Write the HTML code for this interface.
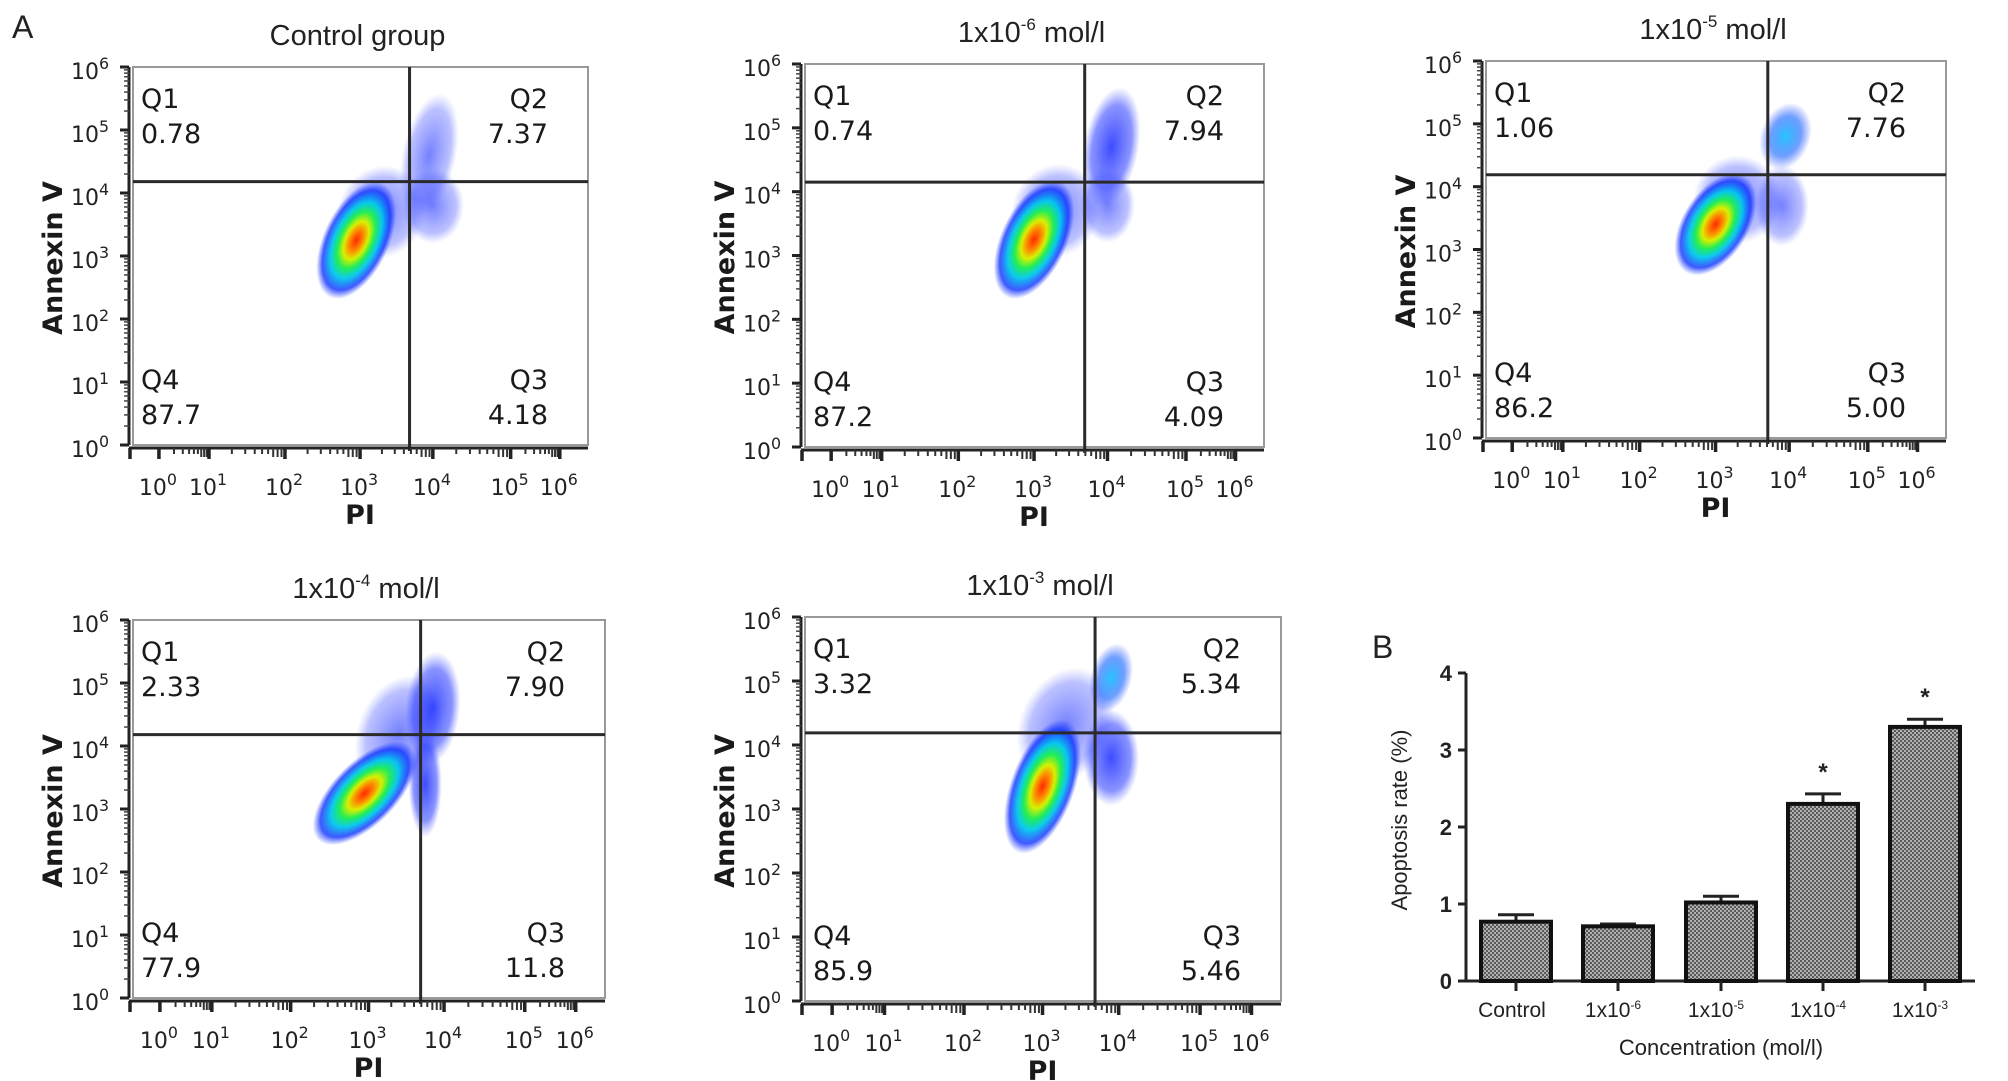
<!DOCTYPE html>
<html><head><meta charset="utf-8">
<style>
html,body{margin:0;padding:0;background:#fff;}
svg{display:block;}
text{font-family:"Liberation Sans",sans-serif;fill:#222;}
.q{font-family:"DejaVu Sans","Liberation Sans",sans-serif;font-size:27px;fill:#1a1a1a;}
.tk{font-family:"DejaVu Sans","Liberation Sans",sans-serif;font-size:22px;fill:#222;}
</style></head>
<body>
<svg id="fig" width="2008" height="1081" viewBox="0 0 2008 1081" xmlns="http://www.w3.org/2000/svg">
<defs>
<radialGradient id="gBlue"><stop offset="0" stop-color="#1a2cff" stop-opacity="0.85"/><stop offset="0.7" stop-color="#2a3cff" stop-opacity="0.55"/><stop offset="1" stop-color="#4a5aff" stop-opacity="0"/></radialGradient>
<radialGradient id="gSparse"><stop offset="0" stop-color="#2a3cff" stop-opacity="0.65"/><stop offset="0.75" stop-color="#4050ff" stop-opacity="0.35"/><stop offset="1" stop-color="#6070ff" stop-opacity="0"/></radialGradient>
<radialGradient id="gCore"><stop offset="0" stop-color="#ff2a00"/><stop offset="0.18" stop-color="#ff8800"/><stop offset="0.32" stop-color="#d8f000"/><stop offset="0.48" stop-color="#22ee55"/><stop offset="0.65" stop-color="#00c8ee" stop-opacity="0.95"/><stop offset="0.85" stop-color="#1030ff" stop-opacity="0.8"/><stop offset="1" stop-color="#2040ff" stop-opacity="0"/></radialGradient>
<radialGradient id="gCyan"><stop offset="0" stop-color="#10c0ff" stop-opacity="0.9"/><stop offset="0.6" stop-color="#1060ff" stop-opacity="0.6"/><stop offset="1" stop-color="#2040ff" stop-opacity="0"/></radialGradient>
<pattern id="hatch" width="4" height="4" patternUnits="userSpaceOnUse"><rect width="4" height="4" fill="#b0b0b0"/><rect width="2" height="2" fill="#5a5a5a"/><rect x="2" y="2" width="2" height="2" fill="#5a5a5a"/></pattern>
</defs>
<text x="12" y="38" font-size="32">A</text>
<text x="1372" y="658" font-size="32">B</text>
<g id="flow"></g>
<g id="bars"></g>
</svg>
<script>
// ---------- Flow cytometry data ----------
const titleBase = ["Control group","1x10","1x10","1x10","1x10"];
const titleExp = ["","-6","-5","-4","-3"];
const q1Vals = ["0.78","0.74","1.06","2.33","3.32"];
const q2Vals = ["7.37","7.94","7.76","7.90","5.34"];
const q3Vals = ["4.18","4.09","5.00","11.8","5.46"];
const q4Vals = ["87.7","87.2","86.2","77.9","85.9"];
const gateX = [3.68,3.69,3.71,3.69,3.69];
const gateY = [4.18,4.15,4.19,4.18,4.19];
// clusters: [xLog, yLog, spreadX(dec), spreadY(dec), rotationDeg, kind]
const clusters0 = [[3.3,3.7,0.6,0.75,30,"sparse"],[3.95,4.6,0.35,1.0,12,"sparse"],[4.0,3.8,0.4,0.6,0,"sparse"],[2.95,3.25,0.45,1.0,25,"core"]];
const clusters1 = [[3.3,3.7,0.6,0.75,30,"sparse"],[4.05,4.7,0.35,0.95,10,"blue"],[4.0,3.8,0.35,0.6,0,"sparse"],[3.0,3.25,0.45,1.0,25,"core"]];
const clusters2 = [[3.3,3.8,0.6,0.7,30,"sparse"],[3.95,4.8,0.32,0.55,20,"cyan"],[3.9,3.7,0.35,0.65,0,"sparse"],[3.0,3.4,0.45,0.9,32,"core"]];
const clusters3 = [[3.4,4.2,0.55,0.95,20,"sparse"],[3.85,4.6,0.35,0.9,5,"blue"],[3.75,3.4,0.22,0.85,0,"blue"],[2.95,3.25,0.42,1.05,45,"core"]];
const clusters4 = [[3.3,4.3,0.6,0.95,25,"sparse"],[3.9,5.05,0.26,0.55,15,"cyan"],[3.9,3.8,0.35,0.75,0,"blue"],[3.0,3.35,0.42,1.1,20,"core"]];
const allClusters = [clusters0,clusters1,clusters2,clusters3,clusters4];
const xDecadeTicks = [0,1,2,3,4,5,6];
const yDecadeTicks = [0,1,2,3,4,5,6];

// layout (pixel boxes)
const boxes = [[133,67,588,445],[805,64,1264,447],[1486,61,1946,438],[133,620,605,998],[805,617,1281,1001]];
const xFrac = [0.057,0.167,0.334,0.499,0.659,0.83,0.938];

const NS="http://www.w3.org/2000/svg";
function mk(tag,attrs,parent){const e=document.createElementNS(NS,tag);for(const k in attrs)e.setAttribute(k,attrs[k]);if(parent)parent.appendChild(e);return e;}
function xScale(b,v){
  const w=b[2]-b[0];
  let f;
  if(v<=0) f=xFrac[0]+v*(xFrac[1]-xFrac[0]);
  else if(v>=6) f=xFrac[6]+(v-6)*(xFrac[6]-xFrac[5]);
  else {const i=Math.floor(v);const t=v-i;f=xFrac[i]+t*(xFrac[i+1]-xFrac[i]);}
  return b[0]+f*w;
}
function yScale(b,v){return b[3]-(v/6)*(b[3]-b[1]);}
function supText(parent,x,y,base,exp,size,anchor,cls,name){
  const t=mk("text",{x:x,y:y,"text-anchor":anchor||"start","font-size":size},parent);
  if(cls)t.setAttribute("class",cls);
  
  
  const a=mk("tspan",{},t);a.textContent=base;
  if(exp!==""){const s=mk("tspan",{dy:-size*0.45,"font-size":size*0.72},t);s.textContent=exp;}
  return t;
}
const flow=document.getElementById("flow");
boxes.forEach((b,p)=>{
  const g=mk("g",{},flow);
  
  
  const cx=(b[0]+b[2])/2;
  // title
  const tt=mk("text",{x:cx-3,y:b[1]-22,"text-anchor":"middle","font-size":29},g);
  
  
  const ta=mk("tspan",{},tt);ta.textContent=titleBase[p];
  if(titleExp[p]){const ts=mk("tspan",{dy:-12,"font-size":17},tt);ts.textContent=titleExp[p];const tr=mk("tspan",{dy:12,"font-size":29},tt);tr.textContent=" mol/l";}
  // frame
  const fr=mk("rect",{x:b[0],y:b[1],width:b[2]-b[0],height:b[3]-b[1],fill:"#fff",stroke:"#999","stroke-width":2},g);
  
  
  // clusters
  const cl=mk("g",{},g);
  
  
  allClusters[p].forEach(c=>{
    const px=xScale(b,c[0]),py=yScale(b,c[1]);
    const rx=Math.abs(xScale(b,c[0]+c[2])-px),ry=Math.abs(yScale(b,c[1]+c[3])-py);
    const fill={sparse:"url(#gSparse)",blue:"url(#gBlue)",cyan:"url(#gCyan)",core:"url(#gCore)"}[c[5]];
    const el=mk("ellipse",{cx:px,cy:py,rx:rx,ry:ry,fill:fill,transform:`rotate(${c[4]} ${px} ${py})`},cl);
    
    
  });
  // gates
  const gx=xScale(b,gateX[p]),gy=yScale(b,gateY[p]);
  const vl=mk("line",{x1:gx,y1:b[1],x2:gx,y2:b[3]+6,stroke:"#2a2a2a","stroke-width":3},g);
  
  
  const hl=mk("line",{x1:b[0],y1:gy,x2:b[2],y2:gy,stroke:"#2a2a2a","stroke-width":3},g);
  
  
  // quadrant labels
  const L=b[0]+8,R=b[2]-40;
  [["Q1",L,b[1]+41,"start","q1-label"],[q1Vals[p],L,b[1]+76,"start","q1-value"],
   ["Q2",R,b[1]+41,"end","q2-label"],[q2Vals[p],R,b[1]+76,"end","q2-value"],
   ["Q4",L,b[3]-56,"start","q4-label"],[q4Vals[p],L,b[3]-21,"start","q4-value"],
   ["Q3",R,b[3]-56,"end","q3-label"],[q3Vals[p],R,b[3]-21,"end","q3-value"]].forEach(d=>{
    const t=mk("text",{x:d[1],y:d[2],"text-anchor":d[3],class:"q"},g);t.textContent=d[0];
    
    
  });
  // y axis
  const ax=b[0]-4;
  const ya=mk("line",{x1:ax,y1:b[1],x2:ax,y2:b[3],stroke:"#222","stroke-width":3},g);
  
  
  yDecadeTicks.forEach(d=>{
    const y=yScale(b,d);
    mk("line",{x1:ax-9,y1:y,x2:ax,y2:y,stroke:"#222","stroke-width":3},g);
    if(d<6)for(let k=2;k<10;k++){const yy=yScale(b,d+Math.log10(k));mk("line",{x1:ax-5,y1:yy,x2:ax,y2:yy,stroke:"#444","stroke-width":1.5},g);}
    supText(g,ax-58,y+12,"10",String(d),22,"start","tk","y-tick-label");
  });
  const yt=mk("text",{x:0,y:0,"text-anchor":"middle","font-size":27,"font-weight":"bold",transform:`translate(${b[0]-71},${(b[1]+b[3])/2+2}) rotate(-90)`,class:"q"},g);
  yt.textContent="Annexin V";
  
  
  // x axis
  const ay=b[3]+3;
  const xa=mk("line",{x1:b[0]-4,y1:ay,x2:b[2],y2:ay,stroke:"#222","stroke-width":3},g);
  
  
  xDecadeTicks.forEach(d=>{
    const x=xScale(b,d);
    mk("line",{x1:x,y1:ay,x2:x,y2:ay+11,stroke:"#222","stroke-width":3.5},g);
    if(d<6)for(let k=2;k<10;k++){const xx=xScale(b,d+Math.log10(k));mk("line",{x1:xx,y1:ay,x2:xx,y2:ay+(k>=7?9:6),stroke:"#333","stroke-width":2},g);}
    supText(g,x-20,b[3]+50,"10",String(d),22,"start","tk","x-tick-label");
  });
  mk("line",{x1:b[0]-3,y1:ay,x2:b[0]-3,y2:ay+11,stroke:"#222","stroke-width":3.5},g);
  const xt=mk("text",{x:xScale(b,3),y:b[3]+79,"text-anchor":"middle","font-size":24,"font-weight":"bold",class:"q"},g);
  xt.textContent="PI";
  
  
});

// ---------- Bar chart data ----------
const barCats = ["Control","1x10","1x10","1x10","1x10"];
const barCatExp = ["","-6","-5","-4","-3"];
const barVals = [0.77,0.71,1.02,2.30,3.30];
const barErr = [0.09,0.03,0.08,0.13,0.10];
const barSig = [false,false,false,true,true];
const yTicks = [0,1,2,3,4];

const bg=document.getElementById("bars");
const X0=1466,X1=1975,Y0=981,Y4=673,bw=70;
const centers=[1516,1618,1721,1823,1925];
function by(v){return Y0-(v/4)*(Y0-Y4);}
const axisY=mk("line",{x1:X0,y1:Y4,x2:X0,y2:Y0+1,stroke:"#222","stroke-width":3},bg);


const axisX=mk("line",{x1:X0-6,y1:Y0,x2:X1,y2:Y0,stroke:"#222","stroke-width":3},bg);


yTicks.forEach(v=>{
  const y=by(v);
  mk("line",{x1:X0-8,y1:y,x2:X0,y2:y,stroke:"#222","stroke-width":3},bg);
  const t=mk("text",{x:X0-14,y:y+8,"text-anchor":"end","font-size":22,"font-weight":"bold"},bg);
  t.textContent=String(v);
  
  
});
barVals.forEach((v,i)=>{
  const c=centers[i];
  const top=by(v), et=by(v+barErr[i]);
  mk("line",{x1:c,y1:top,x2:c,y2:et,stroke:"#222","stroke-width":3},bg);
  const cap=mk("line",{x1:c-18,y1:et,x2:c+18,y2:et,stroke:"#222","stroke-width":3},bg);
  
  
  const r=mk("rect",{x:c-bw/2,y:top,width:bw,height:Y0-top,fill:"url(#hatch)",stroke:"#111","stroke-width":4},bg);
  
  
  mk("line",{x1:c,y1:Y0,x2:c,y2:Y0+10,stroke:"#222","stroke-width":3},bg);
  if(barSig[i]){const s=mk("text",{x:c,y:by(v+barErr[i])-14,"text-anchor":"middle","font-size":24,"font-weight":"bold"},bg);s.textContent="*";
    
    }
  const lt=mk("text",{x:c-(barCatExp[i]?5:4),y:Y0+36,"text-anchor":"middle","font-size":21,fill:"#333"},bg);
  
  
  const a=mk("tspan",{},lt);a.textContent=barCats[i];
  if(barCatExp[i]){const s=mk("tspan",{dy:-8,"font-size":12},lt);s.textContent=barCatExp[i];}
});
const bxt=mk("text",{x:1721,y:1075-20,"text-anchor":"middle","font-size":22,fill:"#333"},bg);
bxt.textContent="Concentration (mol/l)";


const byt=mk("text",{x:0,y:0,"text-anchor":"middle","font-size":22,fill:"#333",transform:"translate(1407,820) rotate(-90)"},bg);
byt.textContent="Apoptosis rate (%)";


</script>
</body></html>
